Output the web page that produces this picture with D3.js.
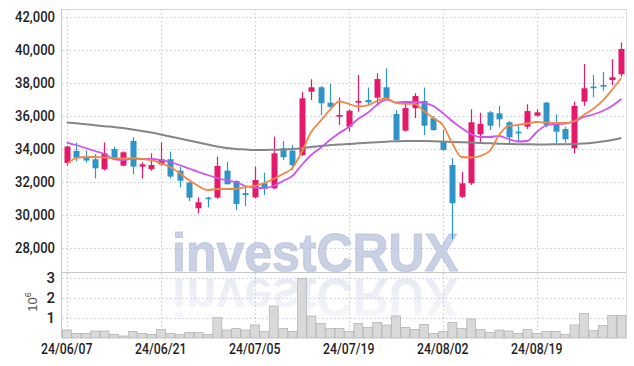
<!DOCTYPE html>
<html>
<head>
<meta charset="utf-8">
<script src="https://cdn.jsdelivr.net/npm/d3@7"></script>
<style>
  html, body { margin: 0; padding: 0; background: #fff; }
  svg { display: block; }
  .tick-label { font-family: Roboto, "Liberation Sans", sans-serif; font-weight: 500; fill: #1e1e1e; }
</style>
</head>
<body>
<svg id="chart" width="634" height="366"></svg>
<script>
// trading days (yy/mm/dd)
const dates = [
  "24/06/07","24/06/10","24/06/11","24/06/12","24/06/13","24/06/14","24/06/17","24/06/18","24/06/19","24/06/20",
  "24/06/21","24/06/24","24/06/25","24/06/26","24/06/27","24/06/28","24/07/01","24/07/02","24/07/03","24/07/04",
  "24/07/05","24/07/08","24/07/09","24/07/10","24/07/11","24/07/12","24/07/15","24/07/16","24/07/17","24/07/18",
  "24/07/19","24/07/22","24/07/23","24/07/24","24/07/25","24/07/26","24/07/29","24/07/30","24/07/31","24/08/01",
  "24/08/02","24/08/05","24/08/06","24/08/07","24/08/08","24/08/09","24/08/12","24/08/13","24/08/14","24/08/16",
  "24/08/19","24/08/20","24/08/21","24/08/22","24/08/23","24/08/26","24/08/27","24/08/28","24/08/29","24/08/30"
];

const open  = [33150,33880,33480,33380,32770,34000,32990,34490,32930,32770,
               33070,33380,32690,31960,30410,31050,31050,32690,32060,31320,
               31070,31920,31620,34040,33900,33640,37470,37740,36810,35960,
               35350,36810,36970,37110,37740,36120,35110,36470,36910,35870,
               34440,33030,31100,31920,34890,36220,36160,35620,35050,35350,
               36020,36810,35520,35210,34040,36870,37780,37880,38180,38530];
const high  = [34200,34390,33900,33700,34400,34140,33850,34710,33200,33740,
               34400,33840,32930,32000,31070,31110,33530,33210,32100,31650,
               32930,32560,34750,34480,34240,37470,38230,37820,37940,37130,
               36400,38480,37720,38590,38890,36360,36830,37380,37720,36000,
               35150,33440,32620,36400,36200,36300,36610,35700,35390,36710,
               36420,36850,36100,35350,36870,39150,38490,38680,39440,40460];
const low   = [33000,33250,33170,32220,32700,33350,32950,32470,32220,32680,
               33000,32220,31680,30850,30100,30470,30980,31860,30300,30540,
               31000,31210,31580,33330,32730,33580,36970,36060,36500,35460,
               35050,36260,36670,36620,36950,34490,35050,35870,34850,35100,
               33880,28550,31040,31820,34440,35150,35320,34340,34440,35210,
               35960,35320,34340,34380,33740,36610,37130,37530,37880,38380];
const close = [34150,33470,33300,32830,33740,33430,33800,32930,33070,33030,
               33380,32330,32080,31050,30770,30980,32970,31860,30670,31210,
               32120,31580,33740,33500,33030,37070,37740,36770,36560,36060,
               36320,36910,36830,38240,37030,34550,36480,37210,35410,35150,
               33940,30710,31920,35620,35520,35410,35800,34710,34950,36300,
               36220,35460,35050,34590,36610,37680,37700,37780,38350,40060];

// moving averages
const maShort = [33090,33450,33515,33515,33485,33450,33425,33450,33395,33330,
                 33150,32910,32545,32120,31760,31515,31575,31575,31575,31695,
                 31760,31940,32180,32485,32850,33820,35030,35700,36365,36880,
                 36730,36575,36640,36910,37060,36790,36730,36730,36300,35880,
                 35455,34365,33515,33485,33575,33880,34850,35395,35455,35545,
                 35636,35605,35575,35575,35695,36060,36425,36910,37575,38300];
const maMid   = [34394,34242,34061,33879,33697,33394,33333,33424,33394,33394,
                 33333,33212,33030,32818,32606,32424,32242,32091,32000,31758,
                 31667,31636,31758,32061,32364,33030,33636,34061,34545,34970,
                 35333,35818,36182,36667,37000,36818,36848,36848,36788,36606,
                 36182,35697,35273,34909,34727,34727,34788,34606,34455,34485,
                 35030,35424,35515,35545,35667,35939,36091,36303,36606,37030];
const maLong  = [35606,35557,35503,35442,35382,35333,35273,35182,35091,35000,
                 34879,34758,34636,34515,34394,34273,34152,34061,34000,33970,
                 33939,33939,33952,33970,34000,34048,34121,34182,34230,34273,
                 34303,34345,34376,34412,34442,34467,34485,34485,34485,34473,
                 34448,34424,34406,34388,34364,34345,34321,34303,34291,34285,
                 34279,34279,34285,34291,34303,34333,34382,34455,34545,34667];

// volume, x10^6
const volume = [0.40,0.23,0.23,0.35,0.35,0.18,0.10,0.32,0.23,0.18,
                0.43,0.23,0.18,0.28,0.28,0.18,1.03,0.40,0.48,0.40,
                0.65,0.32,1.60,0.48,0.32,2.98,1.10,0.73,0.48,0.48,
                0.32,0.73,0.53,0.78,0.65,1.10,0.53,0.43,0.68,0.23,
                0.32,0.78,0.48,0.95,0.43,0.28,0.40,0.35,0.23,0.43,
                0.23,0.32,0.32,0.18,0.65,1.23,0.37,0.63,1.13,1.13];

const priceTicks = [28000,30000,32000,34000,36000,38000,40000,42000];
const volTicks = [1,2,3];
const dateTicks = ["24/06/07","24/06/21","24/07/05","24/07/19","24/08/02","24/08/19"];

const svg = d3.select("#chart");
const left = 62, right = 626;
const priceTop = 9, priceBottom = 272, volBottom = 338;

const x = d3.scaleBand().domain(dates).range([left, right]).padding(0);
const cx = d => x(d) + x.bandwidth() / 2;
const y = d3.scaleLinear().domain([26545, 42485]).range([priceBottom, priceTop]);
const yv = d3.scaleLinear().domain([0, 3.3]).range([volBottom, priceBottom]);

const gridColor = "#c4c8dc";
const upColor = "#e5196b";
const downColor = "#2f95c8";

// grid
const grid = svg.append("g");
grid.selectAll(".hg").data(priceTicks).enter().append("line")
  .attr("x1", left).attr("x2", right)
  .attr("y1", d => Math.round(y(d)) + 0.5).attr("y2", d => Math.round(y(d)) + 0.5)
  .attr("stroke", gridColor).attr("stroke-dasharray", "1.5,2.5");
grid.selectAll(".vg").data(volTicks).enter().append("line")
  .attr("x1", left).attr("x2", right)
  .attr("y1", d => Math.round(yv(d)) + 0.5).attr("y2", d => Math.round(yv(d)) + 0.5)
  .attr("stroke", gridColor).attr("stroke-dasharray", "1.5,2.5");
grid.selectAll(".xg").data(dateTicks).enter().append("line")
  .attr("x1", d => Math.round(cx(d)) + 0.5).attr("x2", d => Math.round(cx(d)) + 0.5)
  .attr("y1", priceTop).attr("y2", volBottom)
  .attr("stroke", gridColor).attr("stroke-dasharray", "1.5,2.5");

// frame
svg.append("line").attr("x1", left - 0.5).attr("x2", left - 0.5).attr("y1", priceTop).attr("y2", volBottom)
  .attr("stroke", "#c8c8c8");
svg.append("line").attr("x1", left).attr("x2", right).attr("y1", priceTop + 0.5).attr("y2", priceTop + 0.5)
  .attr("stroke", "#d4d4d4");
svg.append("line").attr("x1", right + 0.5).attr("x2", right + 0.5).attr("y1", priceTop).attr("y2", volBottom)
  .attr("stroke", "#e0e0e0");
svg.append("line").attr("x1", left).attr("x2", right).attr("y1", priceBottom + 0.5).attr("y2", priceBottom + 0.5)
  .attr("stroke", "#c8c8c8");

// volume bars
svg.append("g").selectAll("rect").data(dates).enter().append("rect")
  .attr("x", d => x(d) + 0.5)
  .attr("width", x.bandwidth() - 0.5)
  .attr("y", (d, i) => yv(volume[i]))
  .attr("height", (d, i) => volBottom - yv(volume[i]))
  .attr("fill", "#d9d9d9").attr("stroke", "#b5b5b5").attr("stroke-width", 0.8);

// watermark + reflection
const defs = svg.append("defs");
const grad = defs.append("linearGradient").attr("id", "fade").attr("x1", 0).attr("x2", 0).attr("y1", 0).attr("y2", 1);
grad.append("stop").attr("offset", "0%").attr("stop-color", "#fff").attr("stop-opacity", 1);
grad.append("stop").attr("offset", "100%").attr("stop-color", "#fff").attr("stop-opacity", 0.4);
defs.append("mask").attr("id", "fadeMask").attr("maskUnits", "userSpaceOnUse")
  .append("rect").attr("x", 0).attr("y", 275).attr("width", 634).attr("height", 42).attr("fill", "url(#fade)");

const wm = svg.append("g").attr("font-family", "Liberation Sans, Arial, sans-serif").attr("font-weight", "bold");
wm.append("text").attr("x", 172).attr("y", 271).attr("font-size", 54)
  .attr("textLength", 286).attr("lengthAdjust", "spacingAndGlyphs")
  .attr("fill", "#b8c2dc").attr("fill-opacity", 0.75)
  .attr("stroke", "#b8c2dc").attr("stroke-opacity", 0.75).attr("stroke-width", 1.2)
  .text("investCRUX");
wm.append("g").attr("mask", "url(#fadeMask)")
  .append("text").attr("x", 172).attr("y", 271).attr("font-size", 54)
  .attr("transform", "translate(0,550) scale(1,-1)")
  .attr("textLength", 286).attr("lengthAdjust", "spacingAndGlyphs")
  .attr("fill", "#c8cfe3").attr("fill-opacity", 0.45)
  .text("investCRUX");

// candles
const candles = svg.append("g").selectAll("g").data(dates).enter().append("g");
const colorOf = i => close[i] >= open[i] ? upColor : downColor;
candles.append("line")
  .attr("x1", d => Math.round(cx(d)) + 0.5).attr("x2", d => Math.round(cx(d)) + 0.5)
  .attr("y1", (d, i) => y(high[i])).attr("y2", (d, i) => y(low[i]))
  .attr("stroke", (d, i) => colorOf(i)).attr("stroke-width", 1.2);
const bodyW = 6;
candles.append("rect")
  .attr("x", d => Math.round(cx(d)) + 0.5 - bodyW / 2)
  .attr("width", bodyW)
  .attr("y", (d, i) => y(Math.max(open[i], close[i])))
  .attr("height", (d, i) => Math.max(1.6, Math.abs(y(open[i]) - y(close[i]))))
  .attr("fill", (d, i) => colorOf(i));

// moving average lines
const line = d3.line().x((d, i) => cx(dates[i])).y(d => y(d)).curve(d3.curveMonotoneX);
svg.append("path").datum(maLong).attr("d", line).attr("fill", "none")
  .attr("stroke", "#858585").attr("stroke-width", 2);
svg.append("path").datum(maMid).attr("d", line).attr("fill", "none")
  .attr("stroke", "#cc55ee").attr("stroke-width", 1.8);
svg.append("path").datum(maShort).attr("d", line).attr("fill", "none")
  .attr("stroke", "#f08848").attr("stroke-width", 1.8);

// axes labels (condensed to match the narrow face in the reference)
function squeeze(sel, k) {
  sel.each(function () {
    const w = this.getComputedTextLength();
    d3.select(this).attr("textLength", w * k).attr("lengthAdjust", "spacingAndGlyphs");
  });
}
const labels = svg.append("g");
labels.selectAll(".py").data(priceTicks).enter().append("text")
  .attr("class", "tick-label")
  .attr("x", 55).attr("y", d => y(d)).attr("dy", "0.36em")
  .attr("text-anchor", "end").attr("font-size", 15)
  .text(d => d3.format(",")(d))
  .call(squeeze, 0.87);
labels.selectAll(".vy").data(volTicks).enter().append("text")
  .attr("class", "tick-label")
  .attr("x", 55).attr("y", d => yv(d)).attr("dy", "0.36em")
  .attr("text-anchor", "end").attr("font-size", 15)
  .text(d => d);
labels.selectAll(".dx").data(dateTicks).enter().append("text")
  .attr("class", "tick-label")
  .attr("x", d => cx(d)).attr("y", 354)
  .attr("text-anchor", "middle").attr("font-size", 15)
  .text(d => d)
  .call(squeeze, 0.82);

// 10^6 unit label
const unit = svg.append("text")
  .attr("transform", "translate(37,302) rotate(-90)")
  .attr("text-anchor", "middle")
  .attr("font-family", "Liberation Sans, Arial, sans-serif")
  .attr("font-size", 13).attr("fill", "#555");
unit.append("tspan").text("10");
unit.append("tspan").attr("dy", -6).attr("font-size", 9).text("6");
</script>
</body>
</html>
